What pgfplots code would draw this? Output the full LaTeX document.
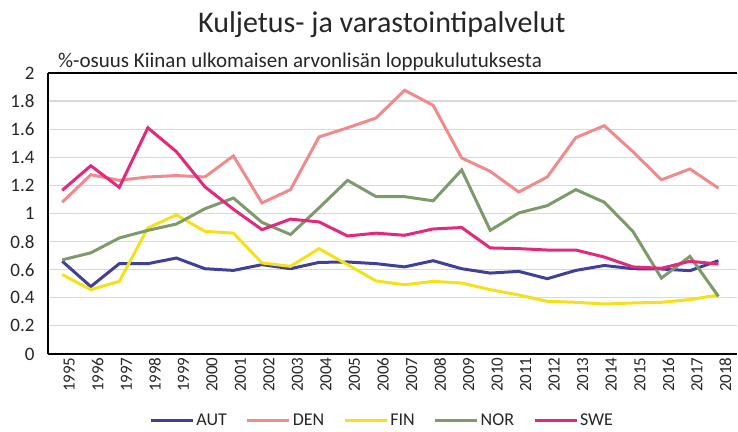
\documentclass[border=0pt]{standalone}
\usepackage{fontspec}
\setmainfont{Carlito}
\usepackage{pgfplots}
\usepackage{pgfplotstable}
\pgfplotsset{compat=1.18}
\definecolor{caut}{HTML}{404099}
\definecolor{cden}{HTML}{F08A8C}
\definecolor{cfin}{HTML}{F5E11A}
\definecolor{cnor}{HTML}{7D9B6A}
\definecolor{cswe}{HTML}{E2297B}
\pgfplotstableread{
year AUT DEN FIN NOR SWE
1995 0.660 1.080 0.565 0.670 1.165
1996 0.480 1.276 0.458 0.720 1.340
1997 0.643 1.236 0.517 0.826 1.186
1998 0.643 1.260 0.897 0.880 1.610
1999 0.683 1.270 0.990 0.925 1.440
2000 0.607 1.260 0.873 1.034 1.190
2001 0.595 1.410 0.860 1.110 1.030
2002 0.636 1.075 0.648 0.937 0.885
2003 0.607 1.170 0.624 0.850 0.960
2004 0.652 1.545 0.750 1.040 0.940
2005 0.655 1.610 0.636 1.236 0.840
2006 0.643 1.680 0.520 1.120 0.860
2007 0.620 1.877 0.493 1.120 0.845
2008 0.664 1.770 0.517 1.090 0.890
2009 0.607 1.395 0.505 1.310 0.900
2010 0.576 1.300 0.458 0.880 0.755
2011 0.588 1.153 0.420 1.004 0.750
2012 0.536 1.260 0.375 1.056 0.740
2013 0.595 1.540 0.368 1.170 0.740
2014 0.630 1.625 0.356 1.080 0.690
2015 0.607 1.440 0.363 0.873 0.620
2016 0.605 1.240 0.368 0.540 0.610
2017 0.593 1.317 0.387 0.695 0.660
2018 0.664 1.180 0.420 0.410 0.640
}\datatable
\begin{document}
\begin{tikzpicture}
\path[use as bounding box] (0,0) rectangle (738bp,432bp);
\node[font=\fontsize{30bp}{34bp}\selectfont, anchor=base west, inner sep=0pt, text=black!85] at (198bp,399bp) {Kuljetus- ja varastointipalvelut};
\node[font=\fontsize{21bp}{24bp}\selectfont, anchor=base west, inner sep=0pt, text=black!85] at (58bp,364bp) {\%-osuus Kiinan ulkomaisen arvonlisän loppukulutuksesta};
\begin{axis}[
  at={(48bp,78bp)}, anchor=south west,
  scale only axis, width=689bp, height=281bp,
  xmin=1994.5, xmax=2018.65, ymin=0, ymax=2,
  axis x line*=bottom, axis y line*=left,
  axis line style={black, line width=1.6bp},
  ytick={0,0.2,...,2.01},
  xtick={1995,...,2018},
  major tick length=0pt,
  ymajorgrids, grid style={draw=black!15, line width=1.2bp},
  /pgf/number format/assume math mode=true,
  xticklabel style={rotate=90, anchor=east, yshift=-7bp, text=black!85, font=\fontsize{17bp}{19bp}\selectfont, /pgf/number format/1000 sep={}},
  yticklabel style={font=\fontsize{19bp}{21bp}\selectfont, xshift=-10bp, text=black!85, /pgf/number format/fixed},
  legend columns=5,
  legend style={at={(0.485,-0.236)}, anchor=center, draw=none, inner sep=1bp, font=\fontsize{18bp}{20bp}\selectfont, text=black!85, /tikz/every even column/.append style={column sep=17bp}},
  legend image code/.code={\draw[#1, line width=3bp] (0bp,0bp) -- (42bp,0bp);},
  clip=false,
]
\draw[black, line width=1.6bp] (axis cs:1994.5,2) -- (axis cs:2018.65,2);
\addplot[caut, line width=3bp] table[x=year, y=AUT] {\datatable};
\addlegendentry{AUT}
\addplot[cden, line width=3bp] table[x=year, y=DEN] {\datatable};
\addlegendentry{DEN}
\addplot[cfin, line width=3bp] table[x=year, y=FIN] {\datatable};
\addlegendentry{FIN}
\addplot[cnor, line width=3bp] table[x=year, y=NOR] {\datatable};
\addlegendentry{NOR}
\addplot[cswe, line width=3bp] table[x=year, y=SWE] {\datatable};
\addlegendentry{SWE}
\end{axis}
\end{tikzpicture}
\end{document}
